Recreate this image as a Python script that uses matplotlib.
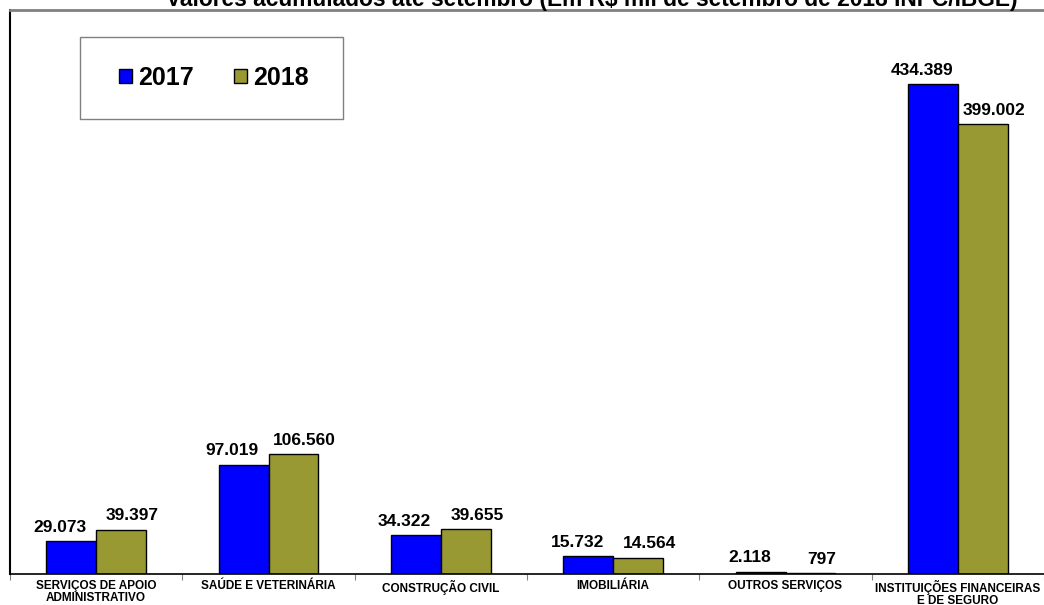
import matplotlib
matplotlib.use("Agg")
import matplotlib.pyplot as plt
from matplotlib.patches import Patch, Rectangle
import numpy as np

plt.rcParams['font.family'] = ['Liberation Sans', 'DejaVu Sans']

categories = [
    "SERVIÇOS DE APOIO\nADMINISTRATIVO",
    "SAÚDE E VETERINÁRIA",
    "CONSTRUÇÃO CIVIL",
    "IMOBILIÁRIA",
    "OUTROS SERVIÇOS",
    "INSTITUIÇÕES FINANCEIRAS\nE DE SEGURO",
]
values_2017 = [29.073, 97.019, 34.322, 15.732, 2.118, 434.389]
values_2018 = [39.397, 106.560, 39.655, 14.564, 0.797, 399.002]
labels_2017 = ["29.073", "97.019", "34.322", "15.732", "2.118", "434.389"]
labels_2018 = ["39.397", "106.560", "39.655", "14.564", "797", "399.002"]
series_names = ["2017", "2018"]
title = "Valores acumulados até setembro (Em R$ mil de setembro de 2018 INPC/IBGE)"

blue = "#0000FF"
olive = "#999933"

fig = plt.figure(figsize=(10.44, 6.05), dpi=100)
W, H = 1044, 605
ax = fig.add_axes([10 / W, (H - 574) / H, (W - 10) / W, (574 - 10) / H])

x = np.arange(len(categories)) + 0.5
bw = 0.29
b1 = ax.bar(x - bw / 2, values_2017, bw, color=blue, edgecolor="black", linewidth=1.0)
b2 = ax.bar(x + bw / 2, values_2018, bw, color=olive, edgecolor="black", linewidth=1.0)

ax.set_xlim(0, len(categories))
ax.set_ylim(0, 500)

for rect, lab in zip(b1, labels_2017):
    ax.annotate(lab, (rect.get_x() + rect.get_width() / 2, rect.get_height()),
                xytext=(-8, 4.5), textcoords="offset points", ha="center", va="bottom",
                fontsize=12.5, fontweight="bold")
for rect, lab in zip(b2, labels_2018):
    ax.annotate(lab, (rect.get_x() + rect.get_width() / 2, rect.get_height()),
                xytext=(8, 4.5), textcoords="offset points", ha="center", va="bottom",
                fontsize=12.5, fontweight="bold")

# category boundaries as ticks, names centred between them
ax.set_xticks(np.arange(len(categories) + 1))
ax.set_xticklabels([])
ax.tick_params(axis="x", which="major", direction="out", length=4, color="#808080")
ax.set_xticks(x, minor=True)
ax.set_xticklabels(categories, minor=True, fontsize=8.5, fontweight="bold", linespacing=1.0)
ax.tick_params(axis="x", which="minor", length=0, pad=4)
ax.set_yticks([])

ax.spines["top"].set_color("#808080")
ax.spines["top"].set_linewidth(2)
ax.spines["right"].set_visible(False)
ax.spines["left"].set_color("black")
ax.spines["left"].set_linewidth(1.5)
ax.spines["bottom"].set_color("black")
ax.spines["bottom"].set_linewidth(1.2)

# legend box
box = Rectangle((80 / W, 1 - 119 / H), 263 / W, 82 / H, transform=fig.transFigure,
                facecolor="white", edgecolor="#808080", linewidth=1.0, zorder=5)
fig.add_artist(box)
handles = [Patch(facecolor=blue, edgecolor="black", linewidth=1.0),
           Patch(facecolor=olive, edgecolor="black", linewidth=1.0)]
leg = fig.legend(handles, series_names, loc="center",
                 bbox_to_anchor=(214 / W, 1 - 78 / H), ncol=2,
                 prop={"weight": "bold", "size": 18}, frameon=False,
                 handlelength=0.52, handleheight=0.52,
                 handletextpad=0.24, columnspacing=1.6, borderpad=0, borderaxespad=0)
leg.set_zorder(6)

fig.text(592 / W, 1 - 6 / H, title, ha="center", va="baseline",
         fontsize=16.4, fontweight="bold")

fig.savefig("out.png", dpi=100)
